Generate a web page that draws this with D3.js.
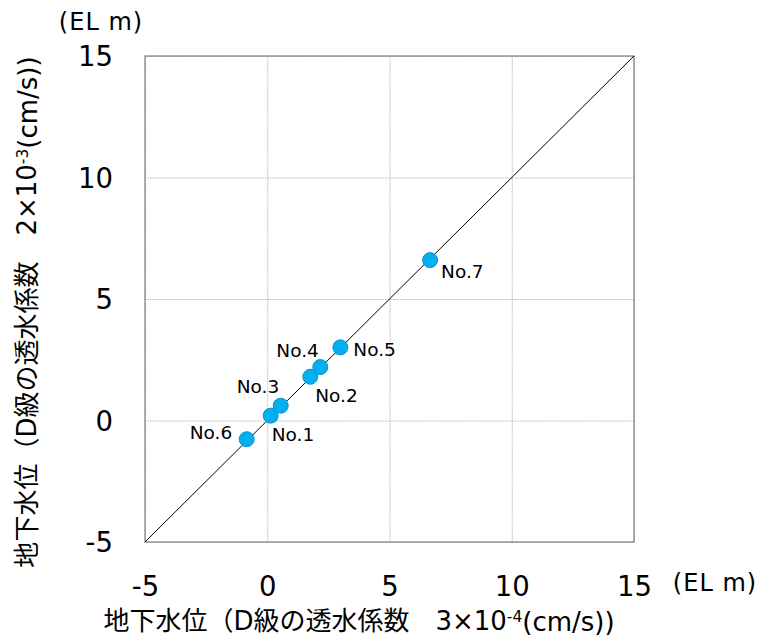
<!DOCTYPE html>
<html><head><meta charset="utf-8">
<script src="https://cdn.jsdelivr.net/npm/d3@7"></script>
<style>html,body{margin:0;padding:0;background:#fff;}</style>
</head><body>
<svg id="c" width="766" height="643"></svg>
<script>
const labels = ["No.1","No.2","No.3","No.4","No.5","No.6","No.7"];
const xValues = [0.14, 1.76, 0.55, 2.17, 2.99, -0.84, 6.66];
const yValues = [0.20, 1.80, 0.61, 2.20, 3.01, -0.77, 6.60];
const tickValues = [-5, 0, 5, 10, 15];
const xTitle = ["地下水位（D級の透水係数　3×10", "-4", "(cm/s))"];
const yTitle = ["地下水位（D級の透水係数　2×10", "-3", "(cm/s))"];
const unitLabel = "(EL m)";
// label placement offsets (px) relative to each point
const labelOffsets = [[1,25],[5,25],[-44,-13],[-44,-10],[13,9],[-57,0],[11,18]];

const svg = d3.select("#c");
const font = "'DejaVu Sans', Verdana, sans-serif";
const x = d3.scaleLinear().domain([-5,15]).range([145,634]);
const y = d3.scaleLinear().domain([-5,15]).range([542,56]);

// gridlines
const gx = svg.append("g").attr("transform","translate(0,542)")
  .call(d3.axisBottom(x).tickValues(tickValues).tickSize(-486).tickFormat(""));
gx.select(".domain").remove();
gx.selectAll("line").attr("stroke","#b8b8b8").attr("stroke-dasharray","1.5,1");
const gy = svg.append("g").attr("transform","translate(145,0)")
  .call(d3.axisLeft(y).tickValues(tickValues).tickSize(-489).tickFormat(""));
gy.select(".domain").remove();
gy.selectAll("line").attr("stroke","#b8b8b8").attr("stroke-dasharray","1.5,1");

// border
svg.append("rect").attr("x",x(-5)).attr("y",y(15)).attr("width",x(15)-x(-5)).attr("height",y(-5)-y(15))
  .attr("fill","none").attr("stroke","#7f7f7f").attr("stroke-width",1.2);

// diagonal
svg.append("line").attr("x1",x(-5)).attr("y1",y(-5)).attr("x2",x(15)).attr("y2",y(15))
  .attr("stroke","#000").attr("stroke-width",1);

// tick labels
const ax = svg.append("g").attr("transform","translate(0,586)")
  .call(d3.axisBottom(x).tickValues(tickValues).tickSize(0).tickPadding(0).tickFormat(d=>String(d)));
ax.select(".domain").remove();
ax.selectAll("text").attr("font-family",font).attr("font-size",27.5).attr("fill","#000")
  .attr("dy","0.35em").attr("y",0);
const ay = svg.append("g").attr("transform","translate(113,0)")
  .call(d3.axisLeft(y).tickValues(tickValues).tickSize(0).tickPadding(0).tickFormat(d=>String(d)));
ay.select(".domain").remove();
ay.selectAll("text").attr("font-family",font).attr("font-size",27.5).attr("fill","#000").attr("dy","0.35em");

// points
const data = labels.map((l,i)=>({l, x:xValues[i], y:yValues[i], o:labelOffsets[i]}));
svg.append("g").selectAll("circle").data(data).join("circle")
  .attr("cx",d=>x(d.x)).attr("cy",d=>y(d.y)).attr("r",7.5)
  .attr("fill","#00b0f0").attr("stroke","#0e8fd0").attr("stroke-width",1);
svg.append("g").selectAll("text").data(data).join("text")
  .attr("x",d=>x(d.x)+d.o[0]).attr("y",d=>y(d.y)+d.o[1])
  .attr("font-family",font).attr("font-size",18.5).attr("fill","#000").text(d=>d.l);

// units
svg.append("text").attr("x",101).attr("y",22).attr("text-anchor","middle").attr("dy","0.35em")
  .attr("font-family",font).attr("font-size",24).attr("letter-spacing",1).text(unitLabel);
svg.append("text").attr("x",715).attr("y",583).attr("text-anchor","middle").attr("dy","0.35em")
  .attr("font-family",font).attr("font-size",24).attr("letter-spacing",1).text(unitLabel);

// axis titles
function title(g, parts){
  const t = g.append("text").attr("text-anchor","middle").attr("dy","0.35em")
    .attr("font-family","'DejaVu Sans', 'Noto Sans CJK JP', sans-serif").attr("font-size",26).attr("fill","#000");
  t.append("tspan").text(parts[0]);
  t.append("tspan").attr("font-size",15.5).attr("dy","-0.55em").text(parts[1]);
  t.append("tspan").attr("dy","0.35em").text(parts[2]);
  return t;
}
title(svg.append("g").attr("transform","translate(359,621)"), xTitle);
title(svg.append("g").attr("transform","translate(27,312) rotate(-90)"), yTitle);
</script>
</body></html>
